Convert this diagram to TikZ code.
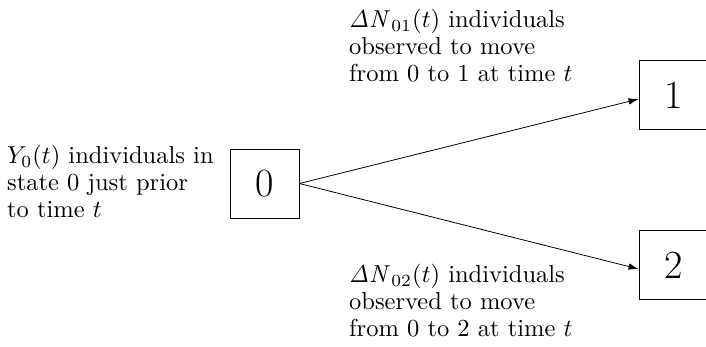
\documentclass[tikz,border=0pt]{standalone}
\usetikzlibrary{arrows.meta}
\newcommand{\lbltext}[1]{\scalebox{2.45}{\fontsize{10}{11.1}\selectfont\begin{tabular}[t]{@{}l@{}}#1\end{tabular}}}
\begin{document}
\begin{tikzpicture}[x=1pt,y=-1pt,
  statebox/.style={draw, line width=0.8pt, minimum width=69pt, minimum height=69pt, inner sep=0pt, font=\fontsize{40}{48}\selectfont},
  lbl/.style={inner sep=0pt, anchor=base west},
  conn/.style={line width=0.8pt, -{Latex[length=10pt,width=6.5pt]}}]
\useasboundingbox (0,0) rectangle (706,346);
\node[statebox] (s0) at (264.5,183.5) {0};
\node[statebox] (s1) at (673.5,95) {1};
\node[statebox] (s2) at (673.5,265) {2};
\node[lbl] (l0) at (7,163.5) {\lbltext{$Y_0(t)$ individuals in\\state 0 just prior\\to time $t$}};
\node[lbl] (l1) at (349,27.5) {\lbltext{$\mathit{\Delta N}_{01}(t)$ individuals\\observed to move\\from 0 to 1 at time $t$}};
\node[lbl] (l2) at (349,282.5) {\lbltext{$\mathit{\Delta N}_{02}(t)$ individuals\\observed to move\\from 0 to 2 at time $t$}};
\draw[conn] (s0.east) -- ([yshift=-4pt]s1.west);
\draw[conn] (s0.east) -- ([yshift=-4pt]s2.west);
\end{tikzpicture}
\end{document}
